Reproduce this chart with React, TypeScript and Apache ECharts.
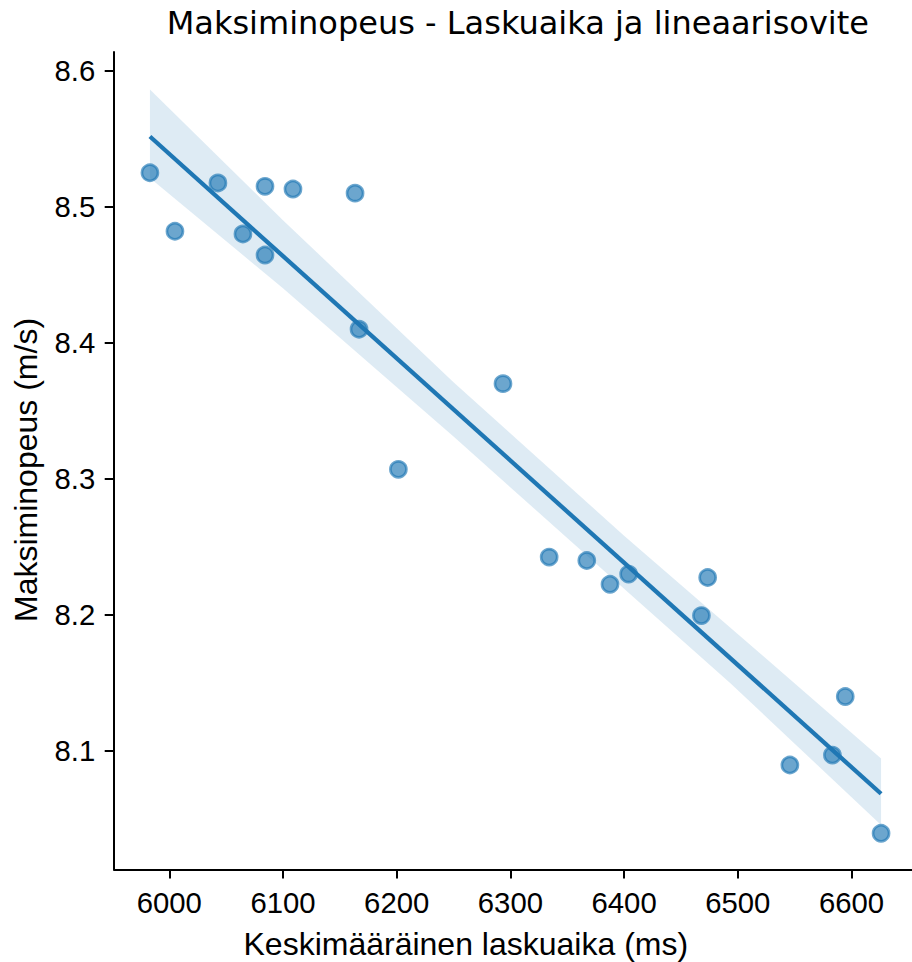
import { useEffect, useRef } from "react";
import * as echarts from "echarts";

// Data
const laskuaika = [5983.0, 6005.0, 6042.8, 6064.8, 6084.2, 6084.2, 6108.8, 6163.4, 6166.9, 6201.5, 6293.5, 6334.1, 6367.2, 6387.6, 6404.0, 6468.0, 6473.5, 6545.8, 6583.2, 6594.5, 6626.0];
const maksiminopeus = [8.525, 8.482, 8.5175, 8.48, 8.515, 8.4645, 8.513, 8.51, 8.41, 8.307, 8.37, 8.2425, 8.24, 8.2225, 8.23, 8.1995, 8.2275, 8.0897, 8.097, 8.14, 8.0395];

// Confidence band (bootstrap CI)
const ciX = [5983, 6100, 6250, 6400, 6493, 6626];
const ciUpper = [8.5862, 8.4901, 8.3711, 8.2582, 8.191, 8.0945];
const ciLower = [8.5212, 8.4401, 8.3311, 8.2192, 8.1502, 8.0456];

const xTicks = [6000, 6100, 6200, 6300, 6400, 6500, 6600];
const yTicks = [8.1, 8.2, 8.3, 8.4, 8.5, 8.6];

const TITLE = "Maksiminopeus - Laskuaika ja lineaarisovite";
const XLABEL = "Keskimääräinen laskuaika (ms)";
const YLABEL = "Maksiminopeus (m/s)";

function ols(xs: number[], ys: number[]) {
  const n = xs.length;
  const mx = xs.reduce((a, b) => a + b, 0) / n;
  const my = ys.reduce((a, b) => a + b, 0) / n;
  let sxy = 0;
  let sxx = 0;
  for (let i = 0; i < n; i++) {
    sxy += (xs[i] - mx) * (ys[i] - my);
    sxx += (xs[i] - mx) * (xs[i] - mx);
  }
  const b = sxy / sxx;
  return { a: my - b * mx, b };
}

export default function App() {
  const ref = useRef<HTMLDivElement>(null);
  useEffect(() => {
    if (!ref.current) return;
    const chart = echarts.init(ref.current, undefined, { renderer: "svg" });
    const { a, b } = ols(laskuaika, maksiminopeus);
    const xMin = Math.min(...laskuaika);
    const xMax = Math.max(...laskuaika);
    const blue = "#1f77b4";
    const tickFont = { fontSize: 29.3, fontFamily: "Liberation Sans, Arial, sans-serif", color: "#000" };

    chart.setOption({
      animation: false,
      grid: { left: 114, top: 52, right: 0, bottom: 92.7, containLabel: false, outerBoundsMode: "none" },
      xAxis: {
        type: "value",
        min: 5951.4,
        max: 6653.2,
        axisLine: { show: true, onZero: false, lineStyle: { color: "#000", width: 2 } },
        axisTick: { show: true, length: 9.3, customValues: xTicks, lineStyle: { color: "#000", width: 2 } },
        axisLabel: { ...tickFont, margin: 18.7, customValues: xTicks, formatter: (v: number) => String(Math.round(v)) },
        splitLine: { show: false },
      },
      yAxis: {
        type: "value",
        min: 8.01305,
        max: 8.61374,
        axisLine: { show: true, onZero: false, lineStyle: { color: "#000", width: 2 } },
        axisTick: { show: true, length: 9.3, customValues: yTicks, lineStyle: { color: "#000", width: 2 } },
        axisLabel: { ...tickFont, margin: 18.7, customValues: yTicks, formatter: (v: number) => v.toFixed(1) },
        splitLine: { show: false },
      },
      series: [
        {
          type: "scatter",
          z: 2,
          symbolSize: 16,
          data: laskuaika.map((x, i) => [x, maksiminopeus[i]]),
          itemStyle: { color: "rgba(31,119,180,0.82)", borderColor: "rgba(31,119,180,0.82)", borderWidth: 2.7 },
          emphasis: { disabled: true },
        },
        {
          type: "custom",
          z: 3,
          data: [[ciX[0], ciUpper[0]]],
          renderItem: (params: any, api: any) => {
            const up = ciX.map((x, i) => api.coord([x, ciUpper[i]]));
            const lo = ciX.map((x, i) => api.coord([x, ciLower[i]])).reverse();
            return {
              type: "polygon",
              shape: { points: [...up, ...lo] },
              style: { fill: "rgba(31,119,180,0.15)", stroke: "none" },
            };
          },
          silent: true,
        },
        {
          type: "line",
          z: 4,
          showSymbol: false,
          symbol: "none",
          data: [
            [xMin, a + b * xMin],
            [xMax, a + b * xMax],
          ],
          lineStyle: { color: blue, width: 4.3 },
          silent: true,
        },
      ],
      graphic: [
        {
          type: "text",
          x: 166.7,
          y: 23.2,
          style: {
            text: TITLE,
            fill: "#000",
            fontSize: 32,
            fontFamily: "DejaVu Sans",
            align: "left",
            verticalAlign: "middle",
            textAlign: "left",
            textVerticalAlign: "middle",
          },
        },
        {
          type: "text",
          x: 243.5,
          y: 944,
          style: {
            text: XLABEL,
            fill: "#000",
            fontSize: 32,
            fontFamily: "Liberation Sans, Arial, sans-serif",
            align: "left",
            verticalAlign: "middle",
            textAlign: "left",
            textVerticalAlign: "middle",
          },
        },
        {
          type: "text",
          x: 26.2,
          y: 622,
          rotation: Math.PI / 2,
          style: {
            text: YLABEL,
            fill: "#000",
            fontSize: 32,
            fontFamily: "Liberation Sans, Arial, sans-serif",
            align: "left",
            verticalAlign: "middle",
            textAlign: "left",
            textVerticalAlign: "middle",
          },
        },
      ],
    });
    return () => chart.dispose();
  }, []);
  return <div ref={ref} style={{ position: "absolute", left: 0, top: 0, width: 912, height: 962 }} />;
}
